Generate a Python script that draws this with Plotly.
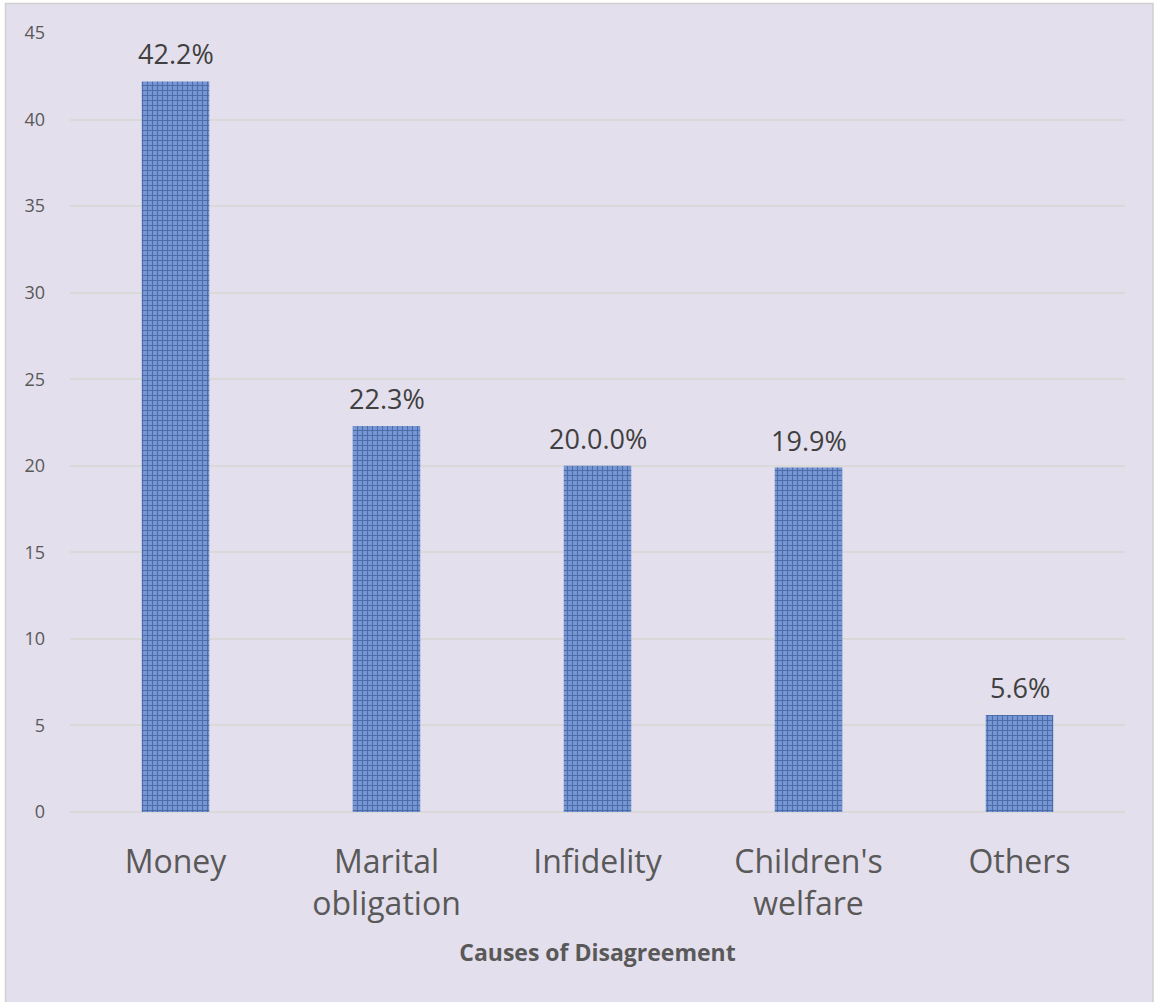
import plotly.graph_objects as go

# Survey results: causes of disagreement between spouses
categories = ["Money", "Marital<br>obligation", "Infidelity", "Children's<br>welfare", "Others"]
values = [42.2, 22.3, 20.0, 19.9, 5.6]
value_labels = ["42.2%", "22.3%", "20.0.0%", "19.9%", "5.6%"]
y_ticks = [0, 5, 10, 15, 20, 25, 30, 35, 40, 45]

FONT = "Open Sans"
TEXT_GREY = "#595959"
PANEL = "#E4DFEC"

# plot-area geometry in pixels (used to place the frame in paper units)
W, H = 1155, 1002
ML, MR, MT, MB = 70, 30, 33, 190
pw, ph = W - ML - MR, H - MT - MB


def px_x(x):
    return (x - ML) / pw


def px_y(y):
    return (H - MB - y) / ph


fig = go.Figure(
    go.Bar(
        x=categories,
        y=values,
        width=0.32,
        cliponaxis=False,
        marker=dict(
            color="#6F90CC",
            line=dict(width=0),
            pattern=dict(
                shape="+",
                bgcolor="#7696D4",
                fgcolor="#24447F",
                size=5,
                solidity=0.4,
                fillmode="overlay",
            ),
        ),
    )
)

# value labels sitting above each bar
for cat, val, lab in zip(categories, values, value_labels):
    fig.add_annotation(
        x=cat, y=val, text=lab, showarrow=False,
        yanchor="bottom", yshift=7,
        font=dict(family=FONT, size=27, color="#404040"),
    )

# chart frame behind everything
fig.add_shape(
    type="rect", xref="paper", yref="paper",
    x0=px_x(5.5), x1=px_x(1153), y0=px_y(1010), y1=px_y(3.5),
    fillcolor=PANEL, line=dict(color="#D0D0D0", width=1.5), layer="below",
)

fig.update_layout(
    width=W, height=H,
    margin=dict(l=ML, r=MR, t=MT, b=MB, pad=0),
    paper_bgcolor="white",
    plot_bgcolor="rgba(0,0,0,0)",
    showlegend=False,
    bargap=0.68,
    font=dict(family=FONT, color=TEXT_GREY),
    xaxis=dict(
        showgrid=False, showline=False, zeroline=False,
        ticks="", ticklabelstandoff=28,
        tickfont=dict(family=FONT, size=32, color=TEXT_GREY),
        title=dict(text="<b>Causes of Disagreement</b>",
                   font=dict(family=FONT, size=23, color=TEXT_GREY), standoff=22),
    ),
    yaxis=dict(
        range=[0, 45], tickvals=y_ticks,
        showgrid=True, gridcolor="#D9D9D9", gridwidth=1.5,
        zeroline=True, zerolinecolor="#D9D9D9", zerolinewidth=1.5,
        showline=False, ticks="", ticklabelstandoff=24,
        tickfont=dict(family=FONT, size=18, color=TEXT_GREY),
    ),
)

fig.write_html("out.html")
